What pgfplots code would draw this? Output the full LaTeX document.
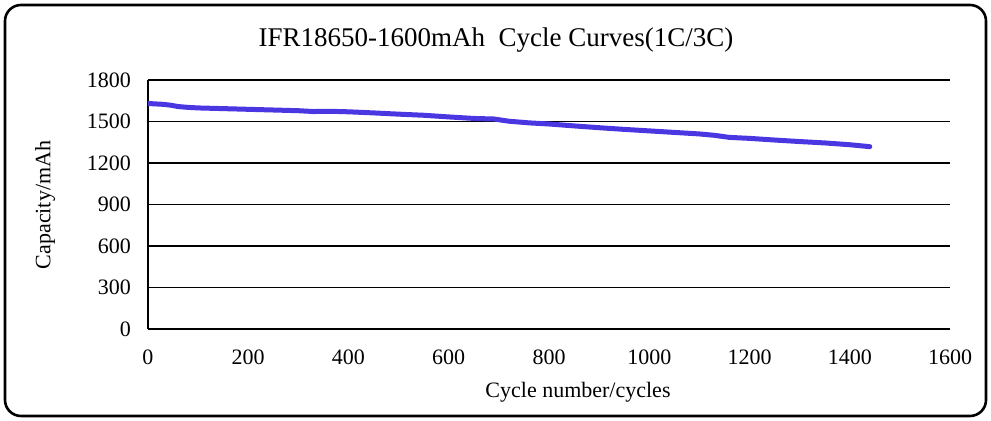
\documentclass[border=0pt]{standalone}
\usepackage{fontspec}
\setmainfont{Liberation Serif}
\usepackage{pgfplots}
\pgfplotsset{compat=1.18}

\definecolor{curveblue}{RGB}{75,55,225}

\pgfplotstableread{
cyc cap
0    1630
10   1628
20   1626
30   1624
45   1618
60   1608
80   1602
100  1598
130  1595
160  1592
200  1588
250  1583
300  1578
330  1572
360  1574
400  1570
450  1562
500  1553
550  1545
600  1533
650  1522
690  1518
720  1502
760  1490
800  1482
850  1468
900  1455
950  1443
1000 1432
1050 1421
1100 1410
1130 1400
1160 1385
1200 1378
1250 1366
1300 1355
1350 1345
1400 1332
1440 1318
}\cycdata

\begin{document}
\begin{tikzpicture}
\useasboundingbox (-74pt,-46pt) rectangle (421.5pt,164.5pt);
\begin{axis}[
    at={(0,0)}, anchor=south west,
    width=401pt, height=124.5pt, scale only axis,
    xmin=0, xmax=1600, ymin=0, ymax=1800,
    xtick distance=200, ytick distance=300,
    axis lines*=left,
    axis line style={line width=0.7pt},
    ymajorgrids,
    major grid style={black, line width=0.6pt},
    major tick length=0pt,
    tick label style={font=\fontsize{11}{13}\selectfont},
    xticklabel style={yshift=-7pt},
    yticklabel style={xshift=-5pt},
    /pgf/number format/1000 sep={},
    /pgf/number format/assume math mode=true,
]
\addplot[curveblue, line width=2.5pt, line join=round, line cap=round] table[x=cyc, y=cap] {\cycdata};
\end{axis}
\node[font=\fontsize{13.5}{16}\selectfont] at (174pt,144.5pt) {IFR18650-1600mAh\ \ Cycle Curves(1C/3C)};
\node[font=\fontsize{11}{13}\selectfont, rotate=90] at (-51.5pt,62pt) {Capacity/mAh};
\node[font=\fontsize{11}{13}\selectfont] at (215pt,-31.5pt) {Cycle number/cycles};
\draw[line width=1.3pt, rounded corners=8pt] (-71.5pt,-43.5pt) rectangle (419pt,162pt);
\end{tikzpicture}
\end{document}
